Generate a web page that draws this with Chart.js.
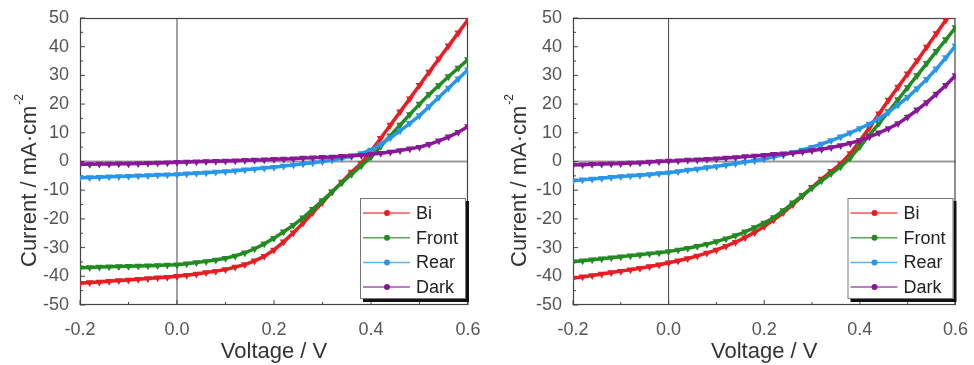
<!DOCTYPE html>
<html lang="en">
<head>
<meta charset="UTF-8">
<title>J-V curves</title>
<style>
  body { margin: 0; background: #fff; }
  .wrap { display: flex; width: 974px; height: 365px; }
  canvas { display: block; }
</style>
<script src="https://cdn.jsdelivr.net/npm/chart.js"></script>
</head>
<body>
<div class="wrap">
  <canvas id="left" width="487" height="365"></canvas>
  <canvas id="right" width="487" height="365"></canvas>
</div>
<script>
// Voltage sweep (V)
var voltage = [-0.2, -0.18, -0.16, -0.14, -0.12, -0.1, -0.08, -0.06, -0.04, -0.02,
  0, 0.02, 0.04, 0.06, 0.08, 0.1, 0.12, 0.14, 0.16, 0.18,
  0.2, 0.22, 0.24, 0.26, 0.28, 0.3, 0.32, 0.34, 0.36, 0.38,
  0.4, 0.42, 0.44, 0.46, 0.48, 0.5, 0.52, 0.54, 0.56, 0.58, 0.6];

var seriesNames = ['Bi', 'Front', 'Rear', 'Dark'];
var seriesColors = ['rgb(232,30,36)', 'rgb(34,139,34)', 'rgb(40,150,235)', 'rgb(136,24,150)'];

// left panel, current density (mA/cm2)
var leftBi = [-42.4, -42.2, -42.0, -41.7, -41.5, -41.3, -41.0, -40.8, -40.5, -40.3,
  -40.0, -39.6, -39.2, -38.7, -38.2, -37.6, -36.8, -35.9, -34.6, -33.0,
  -30.8, -28.0, -24.8, -21.4, -17.8, -14.2, -10.6, -7.1, -3.7, -0.6,
  3.6, 8.1, 12.7, 17.3, 21.9, 26.6, 31.2, 35.8, 40.3, 44.9, 49.4];
var leftFront = [-37.0, -36.9, -36.8, -36.7, -36.6, -36.5, -36.4, -36.3, -36.2, -36.1,
  -36.0, -35.6, -35.2, -34.8, -34.3, -33.7, -32.9, -31.8, -30.4, -28.7,
  -26.7, -24.5, -22.2, -19.6, -16.6, -13.6, -10.5, -7.4, -4.4, -1.5,
  1.6, 5.3, 9.0, 12.7, 16.4, 20.0, 23.4, 26.5, 29.6, 32.6, 35.5];
var leftRear = [-5.7, -5.6, -5.5, -5.3, -5.2, -5.1, -5.0, -4.9, -4.7, -4.6,
  -4.5, -4.3, -4.1, -3.9, -3.7, -3.5, -3.2, -2.9, -2.6, -2.3,
  -2.0, -1.6, -1.2, -0.8, -0.4, 0.0, 0.5, 1.1, 1.8, 2.8,
  4.0, 6.0, 8.3, 10.7, 13.3, 16.0, 19.2, 22.4, 25.6, 28.8, 32.0];
var leftDark = [-1.0, -1.0, -0.9, -0.9, -0.8, -0.8, -0.7, -0.6, -0.5, -0.4,
  -0.3, -0.2, -0.1, 0.0, 0.1, 0.2, 0.3, 0.4, 0.5, 0.6,
  0.8, 0.9, 1.0, 1.2, 1.3, 1.5, 1.6, 1.8, 2.0, 2.2,
  2.5, 2.9, 3.3, 3.8, 4.4, 5.0, 6.0, 7.2, 8.6, 10.2, 12.2];

// right panel
var rightBi = [-40.7, -40.2, -39.7, -39.2, -38.7, -38.2, -37.7, -37.2, -36.6, -36.0,
  -35.3, -34.6, -33.8, -32.9, -31.9, -30.8, -29.5, -28.1, -26.5, -24.7,
  -22.6, -20.3, -17.8, -15.0, -12.0, -9.0, -6.1, -3.4, -0.8, 2.8,
  7.2, 11.8, 16.6, 21.4, 26.0, 30.6, 35.2, 39.9, 44.6, 49.3, 54.0];
var rightFront = [-34.9, -34.6, -34.2, -33.9, -33.5, -33.2, -32.8, -32.5, -32.1, -31.8,
  -31.4, -30.8, -30.2, -29.5, -28.8, -27.9, -26.9, -25.8, -24.5, -23.0,
  -21.4, -19.5, -17.1, -14.4, -11.8, -9.2, -6.7, -4.2, -1.8, 1.3,
  5.2, 9.2, 13.3, 17.4, 21.6, 25.8, 30.0, 34.2, 38.4, 42.5, 46.7];
var rightRear = [-6.7, -6.4, -6.1, -5.8, -5.5, -5.2, -5.0, -4.8, -4.5, -4.2,
  -3.9, -3.5, -3.0, -2.6, -2.1, -1.7, -1.2, -0.7, -0.2, 0.3,
  0.9, 1.6, 2.3, 3.1, 4.0, 5.0, 6.1, 7.3, 8.6, 10.0,
  11.5, 13.1, 15.0, 17.2, 19.7, 22.4, 25.4, 28.7, 32.3, 36.2, 40.3];
var rightDark = [-1.2, -1.1, -1.0, -0.9, -0.8, -0.7, -0.5, -0.4, -0.2, 0.0,
  0.2, 0.3, 0.5, 0.6, 0.8, 1.0, 1.2, 1.4, 1.7, 1.9,
  2.2, 2.5, 2.7, 3.0, 3.4, 3.8, 4.3, 4.9, 5.6, 6.4,
  7.3, 8.6, 10.0, 11.5, 13.2, 15.5, 18.0, 20.6, 23.5, 26.6, 30.0];

// axis ticks
var xTicks = [-0.2, 0, 0.2, 0.4, 0.6];
var xTickLabels = ['-0.2', '0.0', '0.2', '0.4', '0.6'];
var yTicks = [-50, -40, -30, -20, -10, 0, 10, 20, 30, 40, 50];
var yTickLabels = ['-50', '-40', '-30', '-20', '-10', '0', '10', '20', '30', '40', '50'];

var FONT = "'Liberation Sans', Arial, sans-serif";

function line(ctx, x1, y1, x2, y2) {
  ctx.beginPath();
  ctx.moveTo(x1, y1);
  ctx.lineTo(x2, y2);
  ctx.stroke();
}

// frame, zero lines, inward ticks, legend box and y title
var decor = {
  id: 'jvDecor',
  beforeDatasetsDraw: function (chart) {
    var ctx = chart.ctx, a = chart.chartArea;
    var xs = chart.scales.x, ys = chart.scales.y;
    ctx.save();
    ctx.strokeStyle = '#9a9a9a';
    ctx.lineWidth = 2;
    var y0 = ys.getPixelForValue(0);
    line(ctx, a.left, y0, a.right, y0);
    ctx.strokeStyle = '#444';
    ctx.lineWidth = 1;
    var x0 = xs.getPixelForValue(0);
    line(ctx, x0, a.top, x0, a.bottom);

    // major + minor ticks pointing in
    for (var i = 0; i < yTicks.length; i++) {
      var py = ys.getPixelForValue(yTicks[i]);
      line(ctx, a.left, py, a.left + 5, py);
      if (i < yTicks.length - 1) {
        var pm = ys.getPixelForValue((yTicks[i] + yTicks[i + 1]) / 2);
        line(ctx, a.left, pm, a.left + 3, pm);
      }
    }
    for (var j = 0; j < xTicks.length; j++) {
      var px = xs.getPixelForValue(xTicks[j]);
      line(ctx, px, a.bottom, px, a.bottom - 5);
      if (j < xTicks.length - 1) {
        var qm = xs.getPixelForValue((xTicks[j] + xTicks[j + 1]) / 2);
        line(ctx, qm, a.bottom, qm, a.bottom - 3);
      }
    }
    ctx.lineWidth = 1.2;
    ctx.strokeRect(a.left + 0.5, a.top + 0.5, a.width - 1, a.height - 1);
    ctx.restore();
  },
  afterDatasetsDraw: function (chart, args, opts) {
    var ctx = chart.ctx, a = chart.chartArea;
    ctx.save();
    // legend
    var w = 106, h = 101;
    var bx = a.right - 2 - w, by = a.bottom - 6 - h;
    ctx.fillStyle = '#111';
    ctx.fillRect(bx + 3, by + 3, w, h);
    ctx.fillStyle = '#fff';
    ctx.fillRect(bx, by, w, h);
    ctx.strokeStyle = '#777';
    ctx.lineWidth = 1;
    ctx.strokeRect(bx + 0.5, by + 0.5, w - 1, h - 1);
    ctx.font = '18px ' + FONT;
    ctx.textBaseline = 'middle';
    chart.data.datasets.forEach(function (ds, i) {
      var ry = by + 15 + i * 24.7;
      ctx.strokeStyle = ds.borderColor;
      ctx.globalAlpha = 0.75;
      ctx.lineWidth = 1.5;
      line(ctx, bx + 3, ry, bx + 50, ry);
      ctx.globalAlpha = 1;
      ctx.fillStyle = ds.borderColor;
      ctx.beginPath();
      ctx.arc(bx + 27, ry, 3, 0, Math.PI * 2);
      ctx.fill();
      ctx.fillStyle = '#222';
      ctx.fillText(ds.label, bx + 56, ry + 1);
    });

    // y axis title with superscript
    ctx.translate(opts.titleX, a.bottom - 38);
    ctx.rotate(-Math.PI / 2);
    ctx.fillStyle = '#333';
    ctx.font = '22px ' + FONT;
    ctx.textAlign = 'left';
    var main = 'Current / mA\u00b7cm';
    ctx.fillText(main, 0, 0);
    var mw = ctx.measureText(main).width;
    ctx.font = '12px ' + FONT;
    ctx.fillText('-2', mw + 1, -10);
    ctx.restore();
  }
};

function buildChart(id, values, axisWidth, padRight, titleX) {
  return new Chart(document.getElementById(id), {
    type: 'line',
    data: {
      datasets: seriesNames.map(function (name, i) {
        return {
          label: name,
          data: voltage.map(function (v, k) { return { x: v, y: values[i][k] }; }),
          borderColor: seriesColors[i],
          backgroundColor: seriesColors[i],
          borderWidth: 3.5,
          pointRadius: 3,
          pointStyle: 'triangle',
          rotation: 180,
          pointBorderWidth: 1.5,
          tension: 0,
          order: 3 - i
        };
      })
    },
    options: {
      responsive: false,
      animation: false,
      layout: { padding: { top: 18, right: padRight, left: 0, bottom: 0 } },
      plugins: {
        legend: { display: false },
        tooltip: { enabled: false },
        jvDecor: { titleX: titleX }
      },
      scales: {
        x: {
          type: 'linear',
          min: -0.2,
          max: 0.6,
          afterFit: function (s) { s.height = 60; },
          afterBuildTicks: function (s) { s.ticks = xTicks.map(function (v) { return { value: v }; }); },
          grid: { display: false },
          border: { display: false },
          ticks: {
            font: { family: FONT, size: 18 },
            color: '#555',
            padding: 6,
            maxRotation: 0,
            callback: function (v, i) { return xTickLabels[i]; }
          },
          title: {
            display: true,
            text: 'Voltage / V',
            font: { family: FONT, size: 22 },
            color: '#333',
            padding: 0
          }
        },
        y: {
          min: -50,
          max: 50,
          afterFit: function (s) { s.width = axisWidth; },
          afterBuildTicks: function (s) { s.ticks = yTicks.map(function (v) { return { value: v }; }); },
          grid: { display: false },
          border: { display: false },
          ticks: {
            font: { family: FONT, size: 18 },
            color: '#555',
            padding: 3,
            callback: function (v, i) { return yTickLabels[i]; }
          }
        }
      }
    },
    plugins: [decor]
  });
}

buildChart('left', [leftBi, leftFront, leftRear, leftDark], 80, 19, 30);
buildChart('right', [rightBi, rightFront, rightRear, rightDark], 86, 14, 33);
</script>
</body>
</html>
